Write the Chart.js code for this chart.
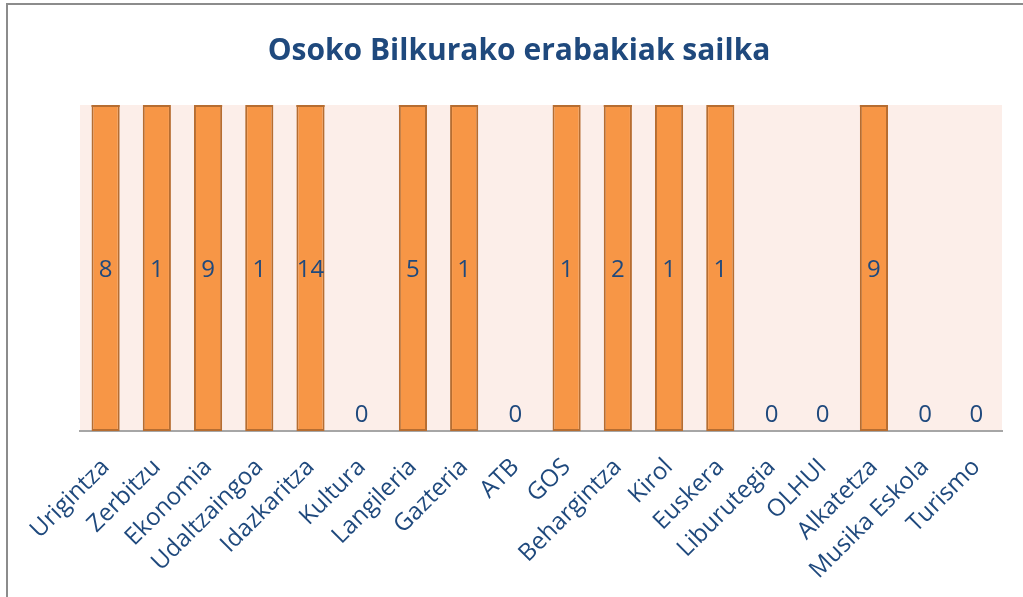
<!DOCTYPE html>
<html>
<head>
<meta charset="utf-8">
<script src="https://cdn.jsdelivr.net/npm/chart.js@4"></script>
<style>
  html, body { margin: 0; padding: 0; background: #fff; }
  #wrap { position: relative; width: 1023px; height: 597px; overflow: hidden; }
  #frame { position: absolute; left: 6px; top: 3px; width: 1100px; height: 700px;
           border-left: 2px solid #8c8c8c; border-top: 2px solid #8c8c8c; }
  canvas { position: absolute; left: 0; top: 0; }
</style>
</head>
<body>
<div id="wrap">
  <div id="frame"></div>
  <canvas id="chart" width="1023" height="597"></canvas>
</div>
<script>
// kategoriak eta balioak
const sailak = ['Urigintza', 'Zerbitzu', 'Ekonomia', 'Udaltzaingoa', 'Idazkaritza', 'Kultura',
    'Langileria', 'Gazteria', 'ATB', 'GOS', 'Behargintza', 'Kirol', 'Euskera', 'Liburutegia',
    'OLHUI', 'Alkatetza', 'Musika Eskola', 'Turismo']
const erabakiak = [8, 1, 9, 1, 14, 0, 5, 1, 0, 1, 2, 1, 1, 0, 0, 9, 0, 0]
const izenburua = 'Osoko Bilkurako erabakiak sailka'
const yMax = 1   // ardatza 1ean mozten da jatorrizkoan

const urdina = '#1F497D'

// grafiko eremuaren atzealdea
const atzealdea = {
    id: 'atzealdea',
    beforeDraw(chart) {
        const a = chart.chartArea
        const ctx = chart.ctx
        ctx.save()
        ctx.fillStyle = '#FCEEE9'
        ctx.fillRect(a.left, a.top, a.right - a.left, a.bottom - a.top)
        ctx.restore()
    }
}

// barren goiko ertza eta balio etiketak
const etiketak = {
    id: 'etiketak',
    afterDatasetsDraw(chart) {
        const ctx = chart.ctx
        const a = chart.chartArea
        const meta = chart.getDatasetMeta(0)
        ctx.save()
        meta.data.forEach(function (bar, i) {
            const v = erabakiak[i]
            const goia = Math.max(bar.y, a.top)
            if (v > 0 && bar.y < a.top) {
                ctx.strokeStyle = '#B66D31'
                ctx.lineWidth = 2
                ctx.beginPath()
                ctx.moveTo(bar.x - bar.width / 2, a.top + 1)
                ctx.lineTo(bar.x + bar.width / 2, a.top + 1)
                ctx.stroke()
            }
            ctx.fillStyle = urdina
            ctx.font = '24px "Open Sans"'
            ctx.textAlign = 'center'
            ctx.textBaseline = 'middle'
            let y = v > 0 ? (goia + bar.base) / 2 + 2 : bar.base - 16
            ctx.fillText(String(v), bar.x, y)
        })
        ctx.restore()
    }
}

new Chart(document.getElementById('chart'), {
    type: 'bar',
    data: {
        labels: sailak,
        datasets: [{
            data: erabakiak,
            backgroundColor: '#F79646',
            borderColor: '#B66D31',
            borderWidth: 2,
            borderSkipped: false,
            barPercentage: 0.55,
            categoryPercentage: 1
        }]
    },
    options: {
        responsive: false,
        animation: false,
        layout: { padding: { left: 36, right: 21, top: 0, bottom: 0 } },
        plugins: {
            legend: { display: false },
            tooltip: { enabled: false },
            title: {
                display: true,
                text: izenburua,
                color: urdina,
                font: { family: '"Open Sans"', size: 30, weight: 'bold' },
                padding: { top: 33, bottom: 36 }
            }
        },
        scales: {
            x: {
                grid: { display: false },
                border: { display: true, color: '#a6a6a6', width: 2 },
                ticks: {
                    color: urdina,
                    font: { family: '"Open Sans"', size: 24 },
                    minRotation: 45,
                    maxRotation: 45,
                    padding: 14
                },
                afterFit(scale) { scale.height = 166 }
            },
            y: {
                min: 0,
                max: yMax,
                grid: { display: false },
                border: { display: false },
                ticks: { display: false },
                afterFit(scale) { scale.width = 44 }
            }
        }
    },
    plugins: [atzealdea, etiketak]
})
</script>
</body>
</html>
